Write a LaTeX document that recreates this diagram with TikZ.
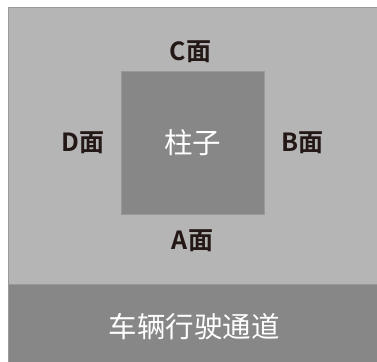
\documentclass[tikz,border=0pt]{standalone}
\usepackage{fontspec}
\newfontfamily\cjk{Noto Sans CJK SC}
\newfontfamily\cjkbold{Noto Sans CJK SC Bold}
\usepackage{tikz}
\usetikzlibrary{positioning}
\definecolor{lightarea}{HTML}{B4B5B4}
\definecolor{darkarea}{HTML}{878787}
\definecolor{edgeline}{HTML}{999999}
\definecolor{textdark}{HTML}{231815}

\begin{document}
\begin{tikzpicture}[x=1pt, y=-1pt,
    face/.style={text=textdark, font=\cjkbold\fontsize{25}{25}\selectfont},
    whitelabel/.style={text=white, font=\cjk\fontsize{28.5}{28.5}\selectfont}]
    \useasboundingbox (0,0) rectangle (377,361);
    % floor area and driveway
    \fill[white] (0,0) rectangle (377,361);
    \draw[edgeline, fill=lightarea] (8,7.5) rectangle (378,284);
    \draw[edgeline, fill=darkarea] (8,284) rectangle (378,362);
    % column
    \node (column) [draw=edgeline, fill=darkarea, minimum size=143pt, inner sep=0pt] at (192.5,142.5) {};
    \node (columnlabel) [whitelabel] at (column.center) {柱子};
    % faces
    \node (faceC) [face, above=5pt of column, xshift=-2pt] {C面};
    \node (faceA) [face, below=12pt of column] {A面};
    \node (faceD) [face, left=12.5pt of column] {D面};
    \node (faceB) [face, right=13.5pt of column] {B面};
    \node (road) [whitelabel] at (194,327) {车辆行驶通道};
\end{tikzpicture}
\end{document}
